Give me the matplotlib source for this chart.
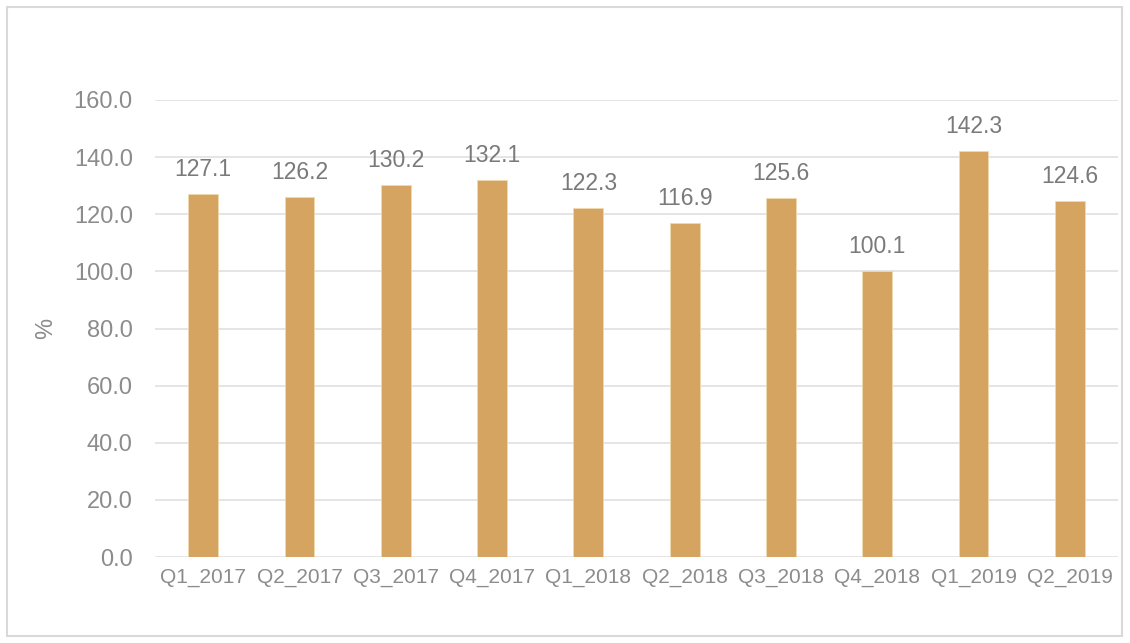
import matplotlib
matplotlib.use('Agg')
import matplotlib.pyplot as plt
from matplotlib.patches import Rectangle

plt.rcParams['font.family'] = ['Liberation Sans', 'DejaVu Sans']

quarters = ['Q1_2017', 'Q2_2017', 'Q3_2017', 'Q4_2017', 'Q1_2018',
            'Q2_2018', 'Q3_2018', 'Q4_2018', 'Q1_2019', 'Q2_2019']
values = [127.1, 126.2, 130.2, 132.1, 122.3, 116.9, 125.6, 100.1, 142.3, 124.6]
yticks = [0, 20, 40, 60, 80, 100, 120, 140, 160]

fig = plt.figure(figsize=(11.3, 6.43), dpi=100)
fig.patches.append(Rectangle((7 / 1130, 7 / 643), 1115 / 1130, 629 / 643,
                             transform=fig.transFigure, fill=False,
                             edgecolor='#d9d9d9', linewidth=1.5))
ax = fig.add_axes([155 / 1130, 1 - 557 / 643, 963 / 1130, 457 / 643])

x = range(len(quarters))
bars = ax.bar(x, values, width=0.31, color='#d4a460', edgecolor='#f0d9b0',
              linewidth=0.6, zorder=3)
for xi, v in zip(x, values):
    ax.text(xi, v + 4.5, f'{v:.1f}', ha='center', va='bottom',
            fontsize=16.5, color='#7a7a7a')

ax.set_xlim(-0.5, len(quarters) - 0.5)
ax.set_ylim(0, 160)
ax.set_yticks(yticks)
ax.set_yticklabels([f'{t:.1f}' for t in yticks])
ax.set_xticks(list(x))
ax.set_xticklabels(quarters)
ax.tick_params(axis='both', length=0, colors='#8c8c8c')
ax.tick_params(axis='y', pad=16, labelsize=17)
ax.tick_params(axis='x', pad=8, labelsize=15)
ax.grid(axis='y', color='#e3e3e3', linewidth=1.3, zorder=0)
for s in ax.spines.values():
    s.set_visible(False)
ax.set_ylabel('%', fontsize=17, color='#8c8c8c', labelpad=12)

fig.savefig('out.png', dpi=100)
